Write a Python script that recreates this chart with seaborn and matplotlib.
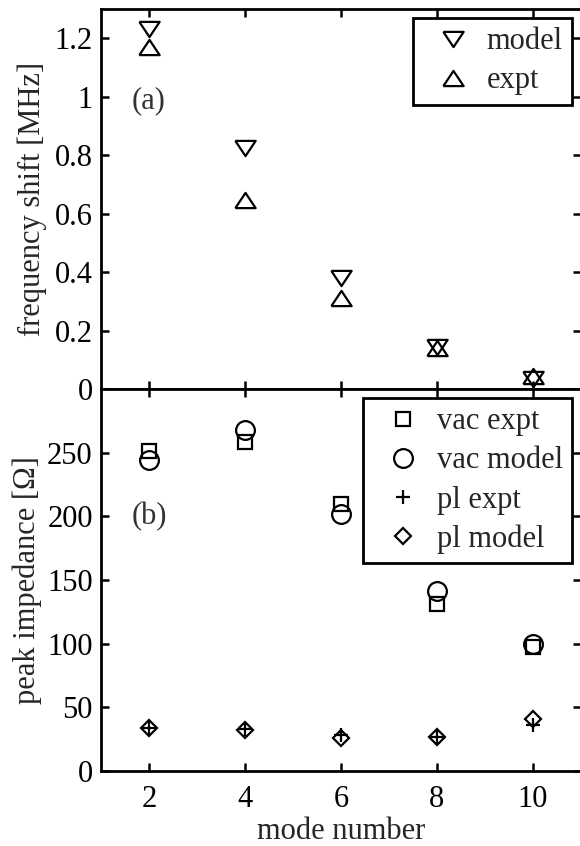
import matplotlib
matplotlib.use("Agg")
import matplotlib.pyplot as plt
import seaborn as sns
from matplotlib.ticker import FuncFormatter

# Mode numbers and measured / modelled quantities
modes = [2, 4, 6, 8, 10]
shift_model = [1.23, 0.825, 0.38, 0.145, 0.035]
shift_expt = [1.17, 0.645, 0.31, 0.14, 0.045]
vac_expt = [251, 258, 210, 131, 97]
vac_model = [244, 268, 202, 141, 100]
pl_expt = [34, 33, 28, 27, 36]
pl_model = [34, 32, 26, 27, 41]

shift_ticks = [0, 0.2, 0.4, 0.6, 0.8, 1.0, 1.2]
imp_ticks = [0, 50, 100, 150, 200, 250]
mode_ticks = [2, 4, 6, 8, 10]

sns.set_style("ticks")
plt.rcParams["font.family"] = ["Liberation Serif", "DejaVu Serif"]
plt.rcParams["mathtext.fontset"] = "stix"

FS = 22
W, H = 580, 846
fig = plt.figure(figsize=(W / 100, H / 100), dpi=100)
ax1 = fig.add_axes([101 / W, 1 - 389 / H, 480 / W, 380 / H])
ax2 = fig.add_axes([101 / W, 1 - 771 / H, 480 / W, 382 / H])

# wide, flat triangles
tri_down = [(-1, 0.75), (1, 0.75), (0, -0.75), (-1, 0.75)]
tri_up = [(-1, -0.75), (1, -0.75), (0, 0.75), (-1, -0.75)]

MEW = 1.6
common = dict(linestyle="", color="black", markerfacecolor="none",
              markeredgecolor="black", markeredgewidth=MEW)

sns.lineplot(x=modes, y=shift_model, marker=tri_down, markersize=14.6,
             label="model", ax=ax1, legend=False, **common)
sns.lineplot(x=modes, y=shift_expt, marker=tri_up, markersize=14.6,
             label="expt", ax=ax1, legend=False, **common)

sns.lineplot(x=modes, y=vac_expt, marker="s", markersize=9.8,
             label="vac expt", ax=ax2, legend=False, **common)
sns.lineplot(x=modes, y=vac_model, marker="o", markersize=13.5,
             label="vac model", ax=ax2, legend=False, **common)
sns.lineplot(x=modes, y=pl_expt, marker="+", markersize=9.5,
             label="pl expt", ax=ax2, legend=False, **common)
sns.lineplot(x=modes, y=pl_model, marker="D", markersize=8.2,
             label="pl model", ax=ax2, legend=False, **common)

fmt = FuncFormatter(lambda v, p: f"{v:g}")
for ax in (ax1, ax2):
    ax.set_xlim(1, 11)
    ax.set_xticks(mode_ticks)
    for s in ax.spines.values():
        s.set_visible(True)
        s.set_linewidth(2.0)
        s.set_color("black")
    ax.tick_params(direction="in", length=6, width=1.8, top=True, right=True,
                   labelsize=FS, colors="black", pad=6)
    ax.yaxis.set_major_formatter(fmt)

ax1.set_ylim(0, 1.3)
ax1.set_yticks(shift_ticks)
ax1.tick_params(axis="x", labelbottom=False)
ax1.set_ylabel("frequency shift [MHz]", fontsize=FS)
ax1.yaxis.set_label_coords(-0.112, 0.5)
ax1.text(2, 0.985, "(a)", fontsize=FS, color="#333333", ha="center", va="center")

ax2.set_ylim(0, 300)
ax2.set_yticks(imp_ticks)
ax2.tick_params(axis="x", pad=10)
ax2.set_ylabel("peak impedance [Ω]", fontsize=FS)
ax2.yaxis.set_label_coords(-0.123, 0.5)
ax2.set_xlabel("mode number", fontsize=FS, labelpad=2)
ax2.text(2, 200, "(b)", fontsize=FS, color="#333333", ha="center", va="center")

leg_kw = dict(loc="upper right", fontsize=FS, frameon=True, fancybox=False,
              edgecolor="black", framealpha=1, borderpad=0.3, borderaxespad=0.3,
              handlelength=2.0, handletextpad=0.1, labelspacing=0.33)
for ax in (ax1, ax2):
    leg = ax.legend(**leg_kw)
    leg.get_frame().set_linewidth(2.0)

fig.savefig("out.png", dpi=100)
